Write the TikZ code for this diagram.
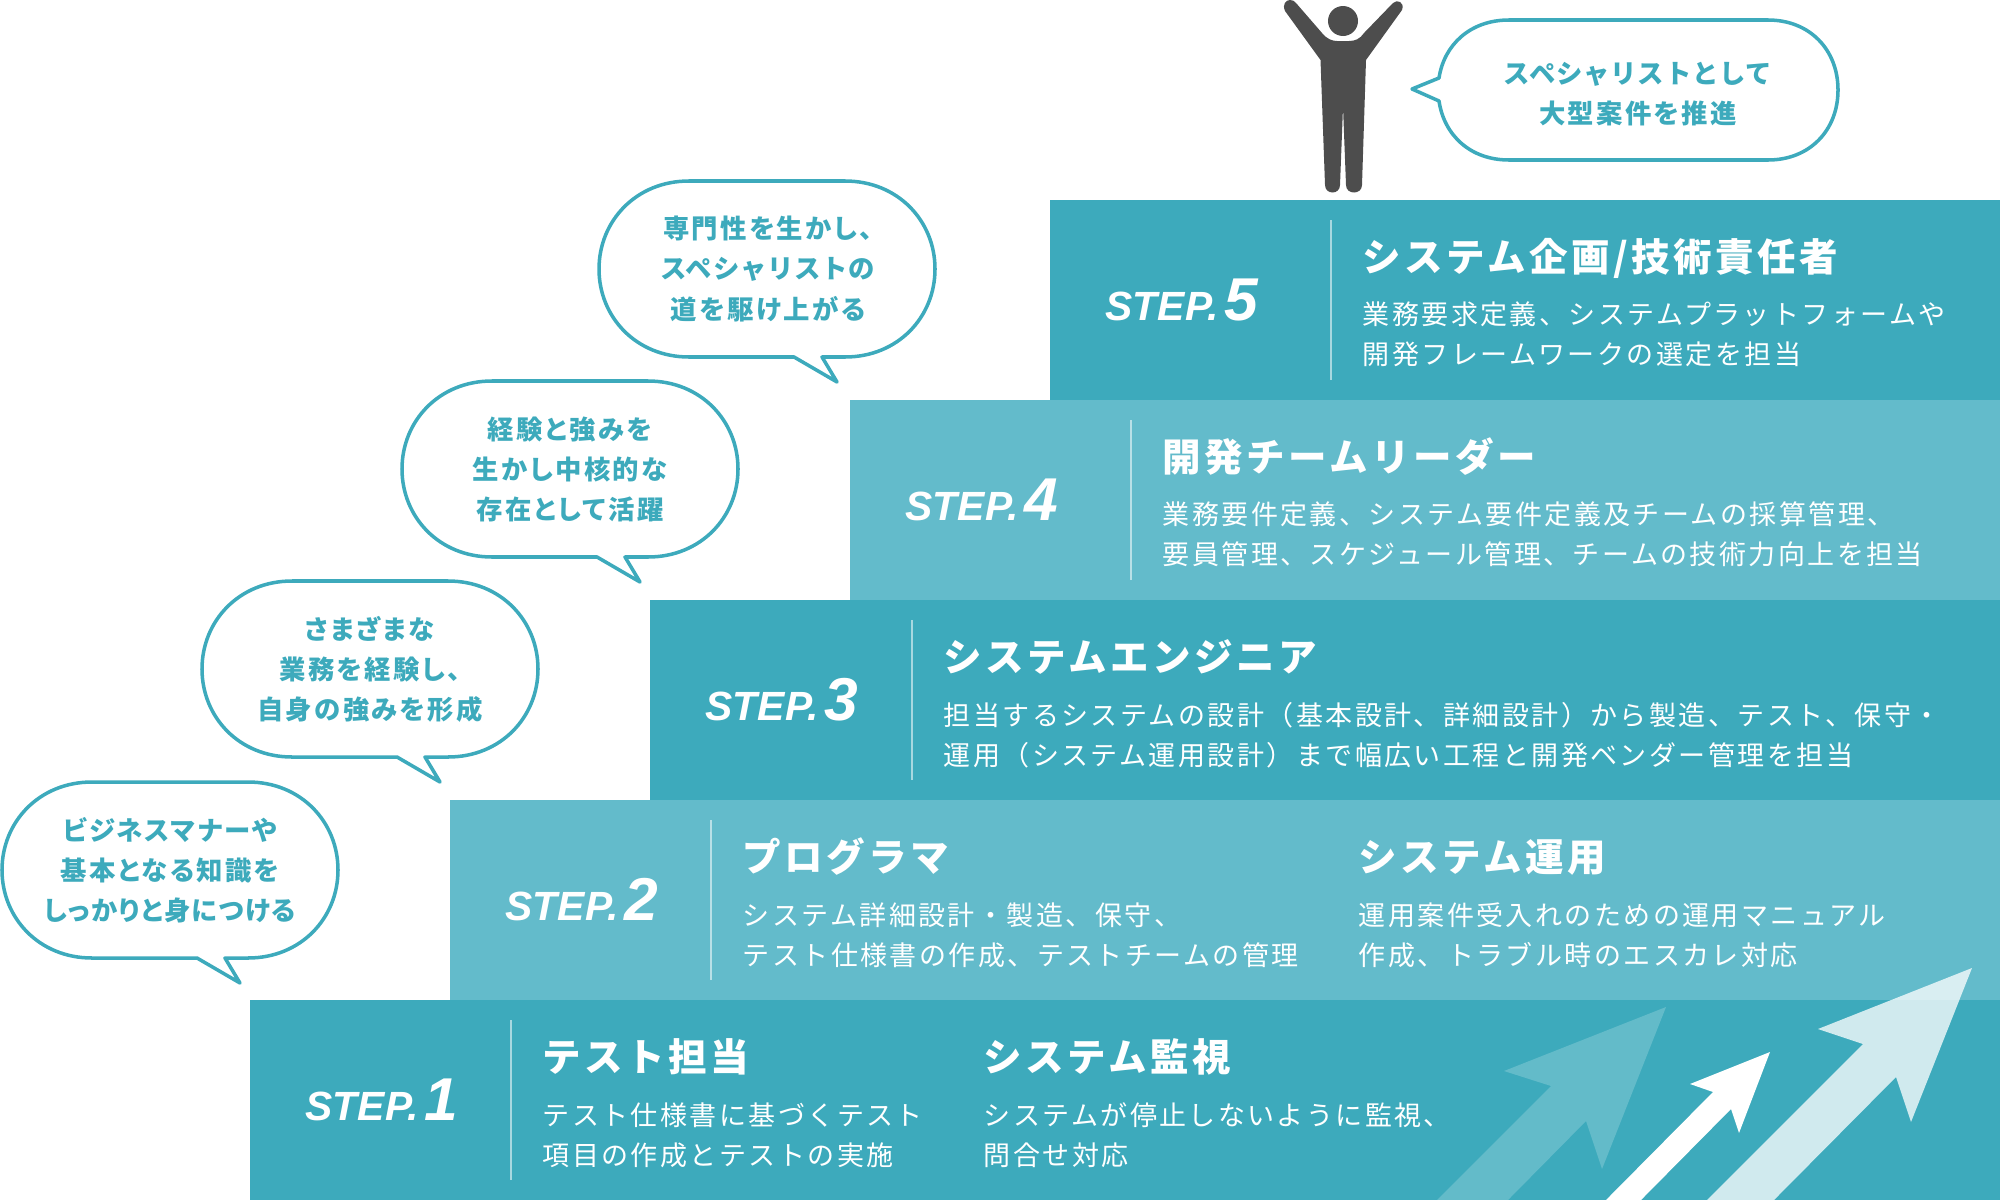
\documentclass[tikz,border=0pt]{standalone}
\usepackage{fontspec}
\setmainfont{Liberation Sans}
\newfontfamily\jp[LetterSpace=9]{Noto Sans CJK JP}
\newfontfamily\jpt[LetterSpace=9]{Noto Sans CJK JP}
\newfontfamily\jpb[RawFeature=+palt,LetterSpace=9]{Noto Sans CJK JP}
\newfontfamily\jpc[RawFeature=+palt,LetterSpace=5]{Noto Sans CJK JP}
\newfontfamily\jpd[LetterSpace=3]{Noto Sans CJK JP}
\definecolor{tealA}{HTML}{3DAABC}
\definecolor{tealB}{HTML}{63BBCB}
\definecolor{figgray}{HTML}{4D4D4D}
\newcommand{\stepword}[1]{{\bfseries\itshape\fontsize{11.6pt}{11.6pt}\selectfont STEP.}\hspace{1.8pt}{\bfseries\itshape\fontsize{17.2pt}{17.2pt}\selectfont #1}}
\tikzset{
  bubblepath/.style={draw=tealA,line width=1pt,fill=white,line join=round},
  dividerline/.style={draw=white,draw opacity=.55,line width=.6pt},
  steplabel/.style={anchor=base west,inner sep=0pt,text=white},
  titletext/.style={anchor=west,inner sep=0pt,text=white,font=\jpt\bfseries\fontsize{10.95pt}{12pt}\selectfont},
  bodytext/.style={anchor=west,inner sep=0pt,text=white,align=left,font=\jp\fontsize{7.68pt}{11.38pt}\selectfont},
  bubbletext/.style={inner sep=0pt,text=tealA,align=center,font=\jpb\bfseries\fontsize{7.5pt}{11.38pt}\selectfont},
}
\newcommand{\bubbleat}[2]{%
  \draw[bubblepath,shift={(#1,#2)}] (90,0) -- (246,0) .. controls (299,0) and (336,40) .. (336,88)
    .. controls (336,136) and (299,176) .. (246,176) -- (223,176) -- (238,201) -- (195,176) -- (90,176)
    .. controls (37,176) and (0,136) .. (0,88) .. controls (0,40) and (37,0) .. (90,0) -- cycle;}
\begin{document}
\begin{tikzpicture}[x=0.01cm,y=-0.01cm]
\useasboundingbox (0,0) rectangle (2000,1200);
% bands
\fill[tealA] (1050,200) rectangle (2000,400);
\fill[tealB] (850,400) rectangle (2000,600);
\fill[tealA] (650,600) rectangle (2000,800);
\fill[tealB] (450,800) rectangle (2000,1000);
\fill[tealA] (250,1000) rectangle (2000,1200);
% dividers
\draw[dividerline] (1331,220) -- (1331,380);
\draw[dividerline] (1131,420) -- (1131,580);
\draw[dividerline] (912,620) -- (912,780);
\draw[dividerline] (711,820) -- (711,980);
\draw[dividerline] (511,1020) -- (511,1180);
% step labels
\node[steplabel] (s5) at (1105,320.5) {\stepword{5}};
\node[steplabel] (s4) at (905,520.5) {\stepword{4}};
\node[steplabel] (s3) at (705,720.5) {\stepword{3}};
\node[steplabel] (s2) at (505,920.5) {\stepword{2}};
\node[steplabel] (s1) at (305,1120.5) {\stepword{1}};
% step 5
\node[titletext] (t5) at (1362,258) {システム企画/技術責任者};
\node[bodytext] (b5) at (1362,334) {業務要求定義、システムプラットフォームや\\開発フレームワークの選定を担当};
% step 4
\node[titletext] (t4) at (1162,457) {開発チームリーダー};
\node[bodytext] (b4) at (1162,534) {業務要件定義、システム要件定義及チームの採算管理、\\要員管理、スケジュール管理、チームの技術力向上を担当};
% step 3
\node[titletext] (t3) at (943,657) {システムエンジニア};
\node[bodytext] (b3) at (943,735) {担当するシステムの設計（基本設計、詳細設計）から製造、テスト、保守・\\運用（システム運用設計）まで幅広い工程と開発ベンダー管理を担当};
% step 2
\node[titletext] (t2) at (742,857) {プログラマ};
\node[bodytext] (b2) at (742,935) {システム詳細設計・製造、保守、\\テスト仕様書の作成、テストチームの管理};
\node[titletext] (t2b) at (1358,857) {システム運用};
\node[bodytext] (b2b) at (1358,935) {運用案件受入れのための運用マニュアル\\作成、トラブル時のエスカレ対応};
% step 1
\node[titletext] (t1) at (542,1057) {テスト担当};
\node[bodytext] (b1) at (542,1135) {テスト仕様書に基づくテスト\\項目の作成とテストの実施};
\node[titletext] (t1b) at (983,1057) {システム監視};
\node[bodytext] (b1b) at (983,1135) {システムが停止しないように監視、\\問合せ対応};
% arrows
\fill[white,opacity=.2] (1666,1007) -- (1504,1071) -- (1551,1086) -- (1437,1200) -- (1508,1200) -- (1586,1121) -- (1602,1169) -- cycle;
\fill[white] (1770,1052) -- (1690,1084) -- (1713,1092) -- (1606,1200) -- (1641,1200) -- (1731,1109) -- (1739,1133) -- cycle;
\fill[white,opacity=.76] (1972,968) -- (1818,1029) -- (1863,1044) -- (1707,1200) -- (1774,1200) -- (1896,1077) -- (1911,1122) -- cycle;
% bubbles
\bubbleat{2}{782}
\bubbleat{202}{581}
\bubbleat{402}{381}
\bubbleat{599}{181}
\draw[bubblepath] (1509,20) -- (1768,20) .. controls (1810,20) and (1838,50) .. (1838,90)
  .. controls (1838,130) and (1810,160) .. (1768,160) -- (1509,160)
  .. controls (1470,160) and (1444,135) .. (1439,101) -- (1412,89) -- (1439,78)
  .. controls (1444,45) and (1470,20) .. (1509,20) -- cycle;
\node[bubbletext] (q1) at (170,870) {{\jpd\bfseries ビジネスマナーや}\\基本となる知識を\\{\jpc\bfseries しっかりと身につける}};
\node[bubbletext] (q2) at (370,669) {さまざまな\\業務を経験し、\\自身の強みを形成};
\node[bubbletext] (q3) at (570,469) {経験と強みを\\生かし中核的な\\存在として活躍};
\node[bubbletext] (q4) at (768,269) {専門性を生かし、\\{\jpd\bfseries スペシャリストの}\\道を駆け上がる};
\node[bubbletext] (q5) at (1638,94) {{\jpd\bfseries スペシャリストとして}\\大型案件を推進};
% figure
\fill[figgray] (1343,21) ellipse (15 and 15);
\fill[figgray] (1320.5,60) -- (1285,11) .. controls (1282,4) and (1286,0) .. (1290,0) .. controls (1292,0) and (1295,1) .. (1296,3)
  -- (1322,33) .. controls (1327,39) and (1332,41) .. (1337,41) -- (1349,41)
  .. controls (1355,41) and (1360,39) .. (1364,33) -- (1393,3) .. controls (1397,-1) and (1405,2) .. (1402,10)
  -- (1366,60) -- (1362,185) .. controls (1362,195) and (1346,195) .. (1346,185) -- (1343,107)
  -- (1340,185) .. controls (1340,195) and (1325,195) .. (1325,185) -- cycle;
\end{tikzpicture}
\end{document}
